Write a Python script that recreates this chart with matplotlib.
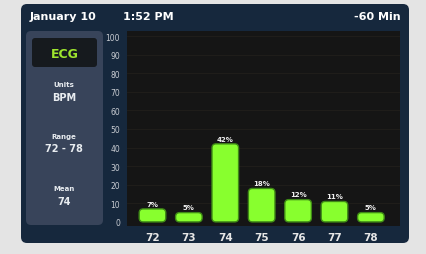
import numpy as np
import matplotlib.pyplot as plt
from matplotlib.patches import FancyBboxPatch

# ------------------ Data ------------------
bpm = ["72", "73", "74", "75", "76", "77", "78"]
share = [7, 5, 42, 18, 12, 11, 5]
y_ticks = [0, 10, 20, 30, 40, 50, 60, 70, 80, 90, 100]

W, H = 427, 255
fig = plt.figure(figsize=(W / 100, H / 100), dpi=100)
fig.patch.set_facecolor("#e4e4e4")

# ------------------ Background panels (pixel coordinates) ------------------
bg = fig.add_axes([0, 0, 1, 1])
bg.set_xlim(0, W)
bg.set_ylim(H, 0)
bg.axis("off")

def rbox(x0, y0, x1, y1, r, color, z=0):
    p = FancyBboxPatch((x0 + r, y0 + r), x1 - x0 - 2 * r, y1 - y0 - 2 * r,
                       boxstyle="round,pad=%g" % r, fc=color, ec="none", zorder=z)
    bg.add_patch(p)

rbox(21, 5, 409, 244, 6, "#16283d")
rbox(26, 32, 103, 226, 5, "#38445a", 1)
rbox(32, 39, 97, 68, 3, "#161a1e", 2)

bold = dict(fontweight="bold", family="DejaVu Sans")
bg.text(30, 17, "January 10", color="white", fontsize=8, ha="left", va="center", **bold)
bg.text(123, 17, "1:52 PM", color="white", fontsize=8, ha="left", va="center", **bold)
bg.text(401, 17, "-60 Min", color="white", fontsize=8, ha="right", va="center", **bold)

bg.text(65, 55, "ECG", color="#9ee52e", fontsize=9, ha="center", va="center", zorder=3, **bold)
side = [("Units", 85, 5), ("BPM", 98, 7), ("Range", 137, 5), ("72 - 78", 149, 7),
        ("Mean", 189, 5), ("74", 202, 7)]
for txt, yy, fs in side:
    bg.text(64, yy, txt, color="#e8ecf0", fontsize=fs, ha="center", va="center",
            zorder=3, **bold)

# ------------------ Bar chart ------------------
ax = fig.add_axes([127 / W, 1 - 227 / H, (400 - 127) / W, (227 - 32) / H])
ax.set_facecolor("#151515")
x = np.arange(len(bpm))
ax.set_xlim(-0.7, len(bpm) - 0.2)
ax.set_ylim(-2.2, 102.7)

for t in y_ticks[1:]:
    ax.axhline(t, color="#211f1c", lw=0.6, zorder=0)

bars = ax.bar(x, share, width=0.73, color="none")
px_x = (400 - 127) / (len(bpm) - 0.2 + 0.7)
px_y = (227 - 32) / (102.7 + 2.2)
asp = px_x / px_y
r = 4 / px_x
for b, v in zip(bars, share):
    bx, by, bw, bh = b.get_x(), b.get_y(), b.get_width(), b.get_height()
    p = FancyBboxPatch((bx + r, by + r * asp), bw - 2 * r, bh - 2 * r * asp,
                       boxstyle="round,pad=%g,rounding_size=%g" % (r, r),
                       mutation_aspect=asp, fc="#88ff2e", ec="#3f8a16", lw=1.0, zorder=3)
    ax.add_patch(p)
    ax.text(bx + bw / 2, bh + 1.2, "%d%%" % v, color="#f0f0f0", fontsize=5,
            ha="center", va="bottom", zorder=4, **bold)

for s in ax.spines.values():
    s.set_visible(False)
ax.set_xticks(x)
ax.set_xticklabels(bpm, color="#e6e6e6", fontsize=7.5, **bold)
ax.set_yticks(y_ticks)
ax.set_yticklabels([str(t) for t in y_ticks], color="#c8ccd2", fontsize=5.5)
ax.tick_params(axis="both", length=0)
ax.tick_params(axis="x", pad=4)
ax.tick_params(axis="y", pad=5)

fig.savefig("out.png", dpi=100, facecolor=fig.get_facecolor())
